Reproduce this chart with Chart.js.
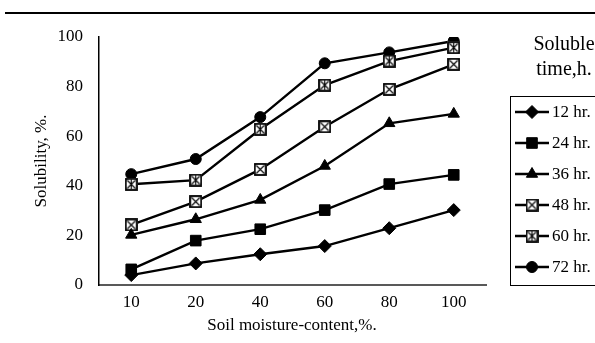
<!DOCTYPE html>
<html><head><meta charset="utf-8">
<script src="https://cdn.jsdelivr.net/npm/chart.js@4/dist/chart.umd.min.js"></script>
<style>html,body{margin:0;padding:0;background:#fff}#wrap{width:595px;height:343px;position:relative}</style>
</head><body><div id="wrap"><canvas id="c" width="595" height="343"></canvas></div>
<script>
const categories = ['10', '20', '40', '60', '80', '100'];
const seriesLabels = ['12 hr.', '24 hr.', '36 hr.', '48 hr.', '60 hr.', '72 hr.'];
const s12 = [4, 8.7, 12.4, 15.7, 22.9, 30.2];
const s24 = [6.3, 17.9, 22.5, 30.2, 40.7, 44.4];
const s36 = [20.2, 26.5, 34.3, 48, 65.2, 69];
const s48 = [24.2, 33.6, 46.6, 63.8, 78.9, 89];
const s60 = [40.6, 42.3, 62.8, 80.6, 90.3, 95.7];
const s72 = [44.7, 50.8, 67.7, 89.4, 93.8, 98.4];
const yTicks = [0, 20, 40, 60, 80, 100];
const legendTitle = ['Soluble', 'time,h.'];
const xTitle = 'Soil moisture-content,%.';
const yTitle = 'Solubility, %.';

const FONT = "'Liberation Serif', 'Times New Roman', serif";

function crossBox(withPlus) {
  const c = document.createElement('canvas');
  c.width = 13; c.height = 13;
  const g = c.getContext('2d');
  g.fillStyle = '#fff'; g.fillRect(0, 0, 13, 13);
  g.strokeStyle = '#000'; g.lineWidth = 1.8;
  g.strokeRect(1, 1, 11, 11);
  g.lineWidth = 1.1;
  g.beginPath();
  g.moveTo(2.5, 2.5); g.lineTo(10.5, 10.5);
  g.moveTo(10.5, 2.5); g.lineTo(2.5, 10.5);
  if (withPlus) { g.moveTo(6.5, 2); g.lineTo(6.5, 11); }
  g.stroke();
  return c;
}
const box48 = crossBox(false);
const box60 = crossBox(true);

const values = [s12, s24, s36, s48, s60, s72];
const styles = [
  { pointStyle: 'rectRot', pointRadius: 6.5 },
  { pointStyle: 'rect', pointRadius: 7.5 },
  { pointStyle: 'triangle', pointRadius: 6.5 },
  { pointStyle: box48, pointRadius: 6.5 },
  { pointStyle: box60, pointRadius: 6.5 },
  { pointStyle: 'circle', pointRadius: 5.5 }
];

const datasets = values.map((v, i) => Object.assign({
  label: seriesLabels[i],
  data: v,
  borderColor: '#000',
  backgroundColor: '#000',
  pointBackgroundColor: '#000',
  pointBorderColor: '#000',
  pointBorderWidth: 1,
  borderWidth: 2.4,
  tension: 0
}, styles[i]));

const decor = {
  id: 'decor',
  afterDraw(chart) {
    const ctx = chart.ctx;
    ctx.save();
    // top rule
    ctx.strokeStyle = '#000'; ctx.lineWidth = 2;
    ctx.beginPath(); ctx.moveTo(5, 13); ctx.lineTo(595, 13); ctx.stroke();
    // axis titles
    ctx.fillStyle = '#000';
    ctx.font = '17px ' + FONT;
    ctx.textAlign = 'center'; ctx.textBaseline = 'middle';
    ctx.fillText(xTitle, 292, 326);
    ctx.save();
    ctx.translate(42, 161); ctx.rotate(-Math.PI / 2);
    ctx.fillText(yTitle, 0, 0);
    ctx.restore();
    // legend title
    ctx.font = '20px ' + FONT;
    ctx.fillText(legendTitle[0], 564, 45);
    ctx.fillText(legendTitle[1], 564, 70);
    // legend box
    ctx.lineWidth = 1;
    ctx.strokeStyle = '#000';
    ctx.strokeRect(510.5, 96.5, 120, 189);
    ctx.font = '17px ' + FONT;
    ctx.textAlign = 'left';
    chart.data.datasets.forEach((ds, i) => {
      const y = 112 + i * 31;
      ctx.strokeStyle = '#000'; ctx.lineWidth = 2.4;
      ctx.beginPath(); ctx.moveTo(515, y); ctx.lineTo(549, y); ctx.stroke();
      ctx.fillStyle = '#000'; ctx.lineWidth = 1;
      Chart.helpers.drawPoint(ctx, { pointStyle: ds.pointStyle, radius: ds.pointRadius, borderWidth: 1, rotation: 0 }, 532, y);
      ctx.fillStyle = '#000';
      ctx.fillText(ds.label, 552, y + 1);
    });
    ctx.restore();
  }
};

new Chart(document.getElementById('c'), {
  type: 'line',
  data: { labels: categories, datasets },
  options: {
    responsive: false,
    animation: false,
    layout: { padding: { left: 0, right: 109, top: 37, bottom: 0 } },
    plugins: { legend: { display: false }, tooltip: { enabled: false } },
    scales: {
      x: {
        offset: true,
        grid: { display: false, drawTicks: false },
        border: { color: '#595959', width: 2 },
        ticks: { color: '#000', font: { family: FONT, size: 17 }, padding: 7 },
        afterFit(s) { s.height = 58; }
      },
      y: {
        min: 0, max: 100,
        grid: { display: false, drawTicks: false },
        border: { color: '#000', width: 1.5 },
        ticks: {
          color: '#000', font: { family: FONT, size: 17 }, padding: 16,
          stepSize: 20,
          callback: (v) => yTicks.includes(v) ? String(v) : ''
        },
        afterFit(s) { s.width = 99; }
      }
    }
  },
  plugins: [decor]
});
</script>
</body></html>
